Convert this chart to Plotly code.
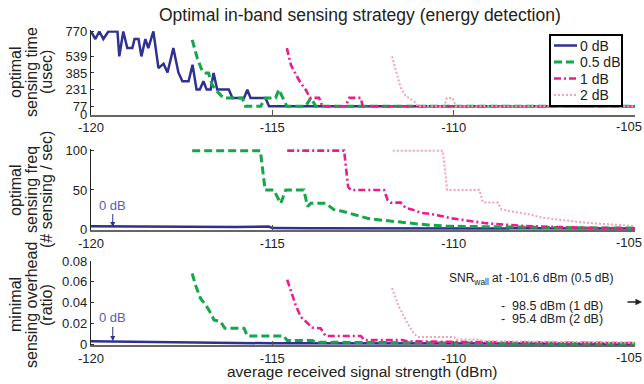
import plotly.graph_objects as go

# ---------------- data ----------------
x_ticks = [-120, -115, -110, -105]
x_ticktext = ["-120", "-115", "-110", ""]
x_end_label = "-105"
time_ticks = [0, 77, 231, 385, 539, 770]
freq_ticks = [0, 50, 100]
ovh_ticks = [0, 0.02, 0.04, 0.06, 0.08]
ovh_ticktext = ["0", "0.02", "0.04", "0.06", "0.08"]
series_names = ["0 dB", "0.5 dB", "1 dB", "2 dB"]

# optimal sensing time (usec)
time_0_x = [-120.0, -119.88, -119.77, -119.66, -119.52, -119.27, -119.22, -119.11, -119.0, -118.86,
            -118.80, -118.69, -118.61, -118.50, -118.42, -118.28, -118.14, -118.0, -117.89, -117.73,
            -117.59, -117.48, -117.31, -117.2, -117.09, -117.0, -116.9, -116.81, -116.7, -116.62,
            -116.52, -116.2, -116.1, -115.78, -115.69, -115.6, -115.19, -115.09, -105.0]
time_0_y = [770, 700, 770, 700, 770, 770, 539, 770, 616, 616,
            700, 700, 539, 700, 616, 770, 430, 470, 390, 616,
            390, 308, 308, 462, 231, 231, 308, 231, 231, 385,
            231, 231, 154, 154, 231, 154, 154, 77, 77]
time_05_x = [-117.21, -117.07, -116.93, -116.84, -116.76, -116.66, -116.57, -116.35, -115.83, -115.74,
             -115.32, -115.19, -114.91, -114.82, -114.6, -114.08, -113.94, -113.8, -105.0]
time_05_y = [693, 524, 400, 385, 385, 277, 231, 154, 154, 77,
             77, 154, 154, 231, 77, 77, 154, 77, 77]
time_1_x = [-114.6, -114.49, -114.35, -114.22, -114.08, -113.96, -113.71, -113.62, -112.98, -112.88,
            -112.56, -112.51, -105.0]
time_1_y = [616, 462, 370, 293, 231, 154, 154, 77, 77, 154,
            154, 77, 77]
time_2_x = [-111.7, -111.64, -111.55, -111.46, -111.32, -111.23, -111.04, -111.0, -110.26, -110.19,
            -110.03, -109.94, -105.0]
time_2_y = [539, 462, 339, 247, 169, 154, 108, 77, 77, 154,
            154, 77, 77]

# optimal sensing frequency (# sensing / sec)
freq_0_x = [-120, -119, -118, -117, -116, -115.1, -115.0, -114, -112, -110, -105]
freq_0_y = [4, 3.6, 3.2, 3, 2.8, 3.5, 1.6, 1.5, 1.3, 1.2, 1.0]
freq_05_x = [-117.21, -115.33, -115.2, -114.96, -114.77, -114.63, -114.13, -114.03, -113.94, -113.53,
             -113.3, -113.07, -112.84, -112.6, -112.38, -112.19, -111.95, -111.7, -111.45, -111.2,
             -111.0, -110.7, -110.45, -110.2, -109.5, -108.5, -107.5, -106.0, -105.0]
freq_05_y = [100, 100, 50, 50, 33, 50, 50, 29, 33, 33,
             25, 23, 20, 17, 14, 12.7, 11.4, 10, 9, 7.6,
             6.7, 5.5, 5, 4.2, 3.5, 2.8, 2.2, 1.8, 1.5]
freq_1_x = [-114.59, -113.02, -112.91, -112.84, -111.92, -111.82, -111.73, -111.46, -111.32, -111.13,
            -110.9, -110.62, -110.35, -110.07, -109.75, -109.47, -109.15, -108.83, -108.51, -108.14,
            -107.77, -107.4, -107.03, -106.67, -106.12, -105.0]
freq_1_y = [100, 100, 54, 50, 50, 37, 34, 34, 27, 25,
            21, 19.5, 17, 14, 12, 10, 8, 6.7, 5.5, 4.6,
            3.8, 3.4, 2.5, 2, 1.7, 1.3]
freq_2_x = [-111.68, -110.3, -110.18, -109.29, -109.2, -109.15, -108.78, -108.69, -108.33, -107.96,
            -107.59, -107.22, -106.85, -106.49, -106.12, -105.75, -105.38, -105.01]
freq_2_y = [100, 100, 50, 50, 35, 34, 34, 25.5, 22, 19.5,
            15, 12.7, 10.5, 9, 7.6, 6.4, 5, 4.2]

# minimal sensing overhead (ratio)
ovh_0_x = [-120, -119, -118, -117, -116, -115, -113, -110, -105]
ovh_0_y = [0.0030, 0.0024, 0.0019, 0.0015, 0.0012, 0.0010, 0.0008, 0.0006, 0.0005]
ovh_05_x = [-117.21, -117.12, -116.98, -116.84, -116.7, -116.61, -116.43, -116.31, -115.78, -115.69,
            -114.68, -114.59, -113.9, -113.8, -112.5, -111, -109, -107, -105]
ovh_05_y = [0.068, 0.057, 0.044, 0.038, 0.030, 0.0234, 0.0217, 0.0154, 0.0154, 0.008,
            0.008, 0.0035, 0.0035, 0.002, 0.0017, 0.0013, 0.001, 0.0008, 0.0007]
ovh_1_x = [-114.59, -114.49, -114.36, -114.22, -114.08, -113.9, -113.67, -113.53, -112.56, -112.47,
           -111.41, -111.3, -110.5, -109, -107, -105]
ovh_1_y = [0.062, 0.0506, 0.038, 0.0265, 0.0217, 0.016, 0.0154, 0.008, 0.008, 0.004,
           0.004, 0.003, 0.0025, 0.0018, 0.0014, 0.0012]
ovh_2_x = [-111.7, -111.51, -111.27, -111.1, -110.99, -109.99, -109.94, -109.27, -109.2, -108, -106.5, -105]
ovh_2_y = [0.054, 0.036, 0.020, 0.0103, 0.007, 0.007, 0.0045, 0.0045, 0.003, 0.0025, 0.002, 0.0015]

# ---------------- styles ----------------
FONT = "Liberation Sans, Arial, Helvetica, sans-serif"
styles = [
    dict(color="#2e3192", width=2.5, dash="solid"),
    dict(color="#12a84a", width=3, dash="8px,4px"),
    dict(color="#ec1c8c", width=2.6, dash="7px,3px,2px,3px"),
    dict(color="#f7a2b4", width=2, dash="2px,2px"),
]

panels = [
    [(time_0_x, time_0_y), (time_05_x, time_05_y), (time_1_x, time_1_y), (time_2_x, time_2_y)],
    [(freq_0_x, freq_0_y), (freq_05_x, freq_05_y), (freq_1_x, freq_1_y), (freq_2_x, freq_2_y)],
    [(ovh_0_x, ovh_0_y), (ovh_05_x, ovh_05_y), (ovh_1_x, ovh_1_y), (ovh_2_x, ovh_2_y)],
]

fig = go.Figure()
for p, series in enumerate(panels):
    ax = "" if p == 0 else str(p + 1)
    for i, (xs, ys) in enumerate(series):
        fig.add_trace(go.Scatter(
            x=xs, y=ys, mode="lines", name=series_names[i],
            line=styles[i], showlegend=False,
            xaxis="x" + ax, yaxis="y" + ax,
        ))

xdom = [91 / 644, 635 / 644]
common_x = dict(range=[-120, -105], tickvals=x_ticks, ticktext=x_ticktext, ticks="inside",
                ticklen=5, tickcolor="#555", tickwidth=1.2, showline=True, linecolor="#666",
                linewidth=1.6, showgrid=False, zeroline=False, domain=xdom, automargin=False,
                tickfont=dict(family=FONT, size=13, color="#222"))
common_y = dict(ticks="inside", ticklen=3, tickcolor="#333", showline=True, linecolor="#222",
                linewidth=1.2, showgrid=False, zeroline=False, automargin=False,
                tickfont=dict(family=FONT, size=13, color="#222"))

ydoms = [[1 - 114.5 / 384, 1 - 30.4 / 384],
         [1 - 230.1 / 384, 1 - 149.1 / 384],
         [1 - 345.3 / 384, 1 - 261 / 384]]

fig.update_layout(
    width=644, height=384, margin=dict(l=0, r=0, t=0, b=0, pad=0, autoexpand=False),
    paper_bgcolor="white", plot_bgcolor="white", showlegend=False,
    font=dict(family=FONT, color="#222"),
    xaxis=dict(**common_x, anchor="y"),
    xaxis2=dict(**common_x, anchor="y2"),
    xaxis3=dict(**common_x, anchor="y3"),
    yaxis=dict(**common_y, anchor="x", range=[0, 780], tickvals=time_ticks, domain=ydoms[0]),
    yaxis2=dict(**common_y, anchor="x2", range=[-1, 102], tickvals=freq_ticks, domain=ydoms[1]),
    yaxis3=dict(**common_y, anchor="x3", range=[-0.001, 0.08], tickvals=ovh_ticks,
                ticktext=ovh_ticktext, domain=ydoms[2]),
)

# ---------------- legend (drawn box) ----------------
shapes = [dict(type="rect", xref="paper", yref="paper",
               x0=550 / 644, x1=622 / 644, y0=1 - 106 / 384, y1=1 - 35 / 384,
               line=dict(color="black", width=2), fillcolor="white", layer="above")]
ann = []
leg_rows = [45.5, 62, 78.5, 95]
for i, name in enumerate(series_names):
    yr = 1 - leg_rows[i] / 384
    shapes.append(dict(type="line", xref="paper", yref="paper", x0=554 / 644, x1=577 / 644,
                       y0=yr, y1=yr, line=styles[i], layer="above"))
    ann.append(dict(text=name, xref="paper", yref="paper", x=578 / 644, y=yr,
                    showarrow=False, xanchor="left", yanchor="middle",
                    font=dict(family=FONT, size=14, color="#222")))

# end-of-axis tick label (-105), kept inside the figure edge
for d in ydoms:
    ann.append(dict(text=x_end_label, xref="paper", yref="paper", x=1.0, y=d[0],
                    yshift=-12, showarrow=False, xanchor="right", yanchor="middle",
                    font=dict(family=FONT, size=13, color="#222")))

# title
ann.append(dict(text="Optimal in-band sensing strategy (energy detection)", xref="paper", yref="paper",
                x=360 / 644, y=1 - 15 / 384, showarrow=False, xanchor="center", yanchor="middle",
                font=dict(family=FONT, size=17.5, color="#222")))
# x axis title
ann.append(dict(text="average received signal strength (dBm)", xref="paper", yref="paper",
                x=362 / 644, y=1 - 371 / 384, showarrow=False, xanchor="center", yanchor="middle",
                font=dict(family=FONT, size=15.5, color="#222")))
# y axis titles
ytitles = [
    (["optimal", "sensing time", "(usec)"], 72),
    (["optimal", "sensing freq", "(# sensing / sec)"], 190),
    (["minimal", "sensing overhead", "(ratio)"], 305),
]
for lines, yc in ytitles:
    for k, txt in enumerate(lines):
        ann.append(dict(text=txt, xref="paper", yref="paper", x=[15, 31, 46][k] / 644,
                        y=1 - yc / 384, showarrow=False, textangle=-90,
                        xanchor="center", yanchor="middle",
                        font=dict(family=FONT, size=16, color="#222")))
# 0 dB arrows
ann.append(dict(text="0 dB", x=-119.4, y=2.9, xref="x2", yref="y2", ax=0, ay=-22,
                showarrow=True, arrowhead=2, arrowsize=1, arrowwidth=1, arrowcolor="#2e3192",
                font=dict(family=FONT, size=13, color="#5a5db5")))
ann.append(dict(text="0 dB", x=-119.4, y=0.0032, xref="x3", yref="y3", ax=0, ay=-23,
                showarrow=True, arrowhead=2, arrowsize=1, arrowwidth=1, arrowcolor="#2e3192",
                font=dict(family=FONT, size=13, color="#5a5db5")))
# SNR wall notes
ann.append(dict(text="SNR<sub>wall</sub> at -101.6 dBm (0.5 dB)", xref="paper", yref="paper",
                x=447 / 644, y=1 - 279 / 384, showarrow=False, xanchor="left", yanchor="middle",
                font=dict(family=FONT, size=12, color="#222")))
ann.append(dict(text="-  98.5 dBm (1 dB)", xref="paper", yref="paper",
                x=499 / 644, y=1 - 306 / 384, showarrow=False, xanchor="left", yanchor="middle",
                font=dict(family=FONT, size=12.5, color="#222")))
ann.append(dict(text="-  95.4 dBm (2 dB)", xref="paper", yref="paper",
                x=499 / 644, y=1 - 319 / 384, showarrow=False, xanchor="left", yanchor="middle",
                font=dict(family=FONT, size=12.5, color="#222")))
ann.append(dict(text="", xref="paper", yref="paper", x=642 / 644, y=1 - 302 / 384,
                axref="pixel", ayref="pixel", ax=-16, ay=0, showarrow=True, arrowhead=2,
                arrowsize=1, arrowwidth=1.3, arrowcolor="#222", standoff=0))
fig.update_layout(annotations=ann, shapes=shapes)

fig.write_html("out.html", config={"displayModeBar": False},
               post_script="document.body.style.margin='0';document.body.style.padding='0';")
